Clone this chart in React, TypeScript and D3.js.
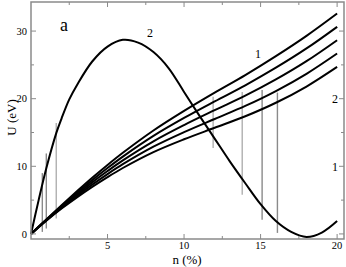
import * as d3 from 'd3'

// curve "2"
const n2 = [0, 0.5, 1, 1.65, 2, 2.5, 3, 4, 5, 6, 7, 8, 9, 10, 11, 12, 13, 14, 15, 16, 17, 18, 19, 20]
const u2 = [0, 5.0, 9.7, 14.9, 17.1, 19.9, 22.0, 25.5, 27.7, 28.7, 28.3, 26.9, 24.5, 21.0, 17.5, 14.1, 10.7, 7.5, 4.4, 1.9, 0.3, -0.45, 0.2, 1.9]

// family "1" (five curves, top to bottom)
const n1 = [0, 1, 2, 3, 4, 5, 6, 8, 10, 12, 14, 16, 18, 20]
const u1a = [0, 2.15, 4.25, 6.3, 8.3, 10.2, 12.0, 15.3, 18.2, 20.9, 23.5, 26.3, 29.3, 32.6]
const u1b = [0, 2.1, 4.13, 6.08, 7.96, 9.75, 11.44, 14.5, 17.15, 19.6, 21.98, 24.58, 27.43, 30.63]
const u1c = [0, 2.05, 4.0, 5.85, 7.63, 9.3, 10.88, 13.7, 16.1, 18.3, 20.45, 22.85, 25.55, 28.65]
const u1d = [0, 2.0, 3.88, 5.63, 7.29, 8.85, 10.31, 12.9, 15.05, 17.0, 18.93, 21.13, 23.68, 26.68]
const u1e = [0, 1.95, 3.75, 5.4, 6.95, 8.4, 9.75, 12.1, 14.0, 15.7, 17.4, 19.4, 21.8, 24.7]
const family1 = [u1a, u1b, u1c, u1d, u1e]

// vertical range bars
const barN = [0.74, 1.0, 1.65, 11.9, 13.8, 15.1, 16.1]
const barLow = [0.3, 0.8, 2.3, 12.7, 5.8, 2.1, 0.15]
const barHigh = [9.0, 11.9, 16.4, 20.3, 21.0, 21.3, 20.9]

const xMajor = [5, 10, 15, 20]
const xMinor = [2.5, 7.5, 12.5, 17.5]
const yMajor = [0, 10, 20, 30]
const yMinor = [5, 15, 25]
const rightLabels = [
  { v: 20, t: '2' },
  { v: 10, t: '1' }
]

const W = 346
const H = 267
const axisColor = '#8a8a8a'
const font = "'Liberation Serif', 'DejaVu Serif', serif"

export default function App() {
  const x = d3.scaleLinear().domain([0, 20.45]).range([31, 344])
  const y = d3.scaleLinear().domain([-0.75, 34.3]).range([239, 2])
  const [x0, x1] = x.range()
  const [y0, y1] = y.range()

  const line = d3
    .line<[number, number]>()
    .x(d => x(d[0]))
    .y(d => y(d[1]))
    .curve(d3.curveCatmullRom.alpha(0.5))

  const c2 = line(n2.map((n, i) => [n, u2[i]] as [number, number])) ?? ''
  const c1 = family1.map(arr => line(n1.map((n, i) => [n, arr[i]] as [number, number])) ?? '')

  return (
    <svg width={W} height={H} style={{ position: 'absolute', left: 0, top: 0, fontFamily: font }}>
      <rect width={W} height={H} fill="#fff" />

      {/* range bars */}
      {barN.map((n, i) => (
        <line key={'b' + i} x1={x(n)} x2={x(n)} y1={y(barLow[i])} y2={y(barHigh[i])}
          stroke={i === 2 || i === 3 || i === 4 ? '#b0b0b0' : '#8a8a8a'} strokeWidth={1.4} />
      ))}

      {/* curves */}
      {c1.map((d, i) => (
        <path key={'c' + i} d={d} fill="none" stroke="#000" strokeWidth={2} />
      ))}
      <path d={c2} fill="none" stroke="#000" strokeWidth={2} />

      {/* frame */}
      <rect x={x0} y={y1} width={x1 - x0} height={y0 - y1} fill="none" stroke={axisColor} strokeWidth={1.5} />

      {/* x ticks, bottom and top */}
      {xMajor.map(v => (
        <g key={'xm' + v}>
          <line x1={x(v)} x2={x(v)} y1={y0} y2={y0 - 5} stroke={axisColor} />
          <line x1={x(v)} x2={x(v)} y1={y1} y2={y1 + 5} stroke={axisColor} />
          <text x={x(v)} y={249} fontSize={10.5} textAnchor="middle">{v}</text>
        </g>
      ))}
      {xMinor.map(v => (
        <g key={'xn' + v}>
          <line x1={x(v)} x2={x(v)} y1={y0} y2={y0 - 3} stroke={axisColor} />
          <line x1={x(v)} x2={x(v)} y1={y1} y2={y1 + 3} stroke={axisColor} />
        </g>
      ))}

      {/* y ticks, left and right */}
      {yMajor.map(v => (
        <g key={'ym' + v}>
          <line x1={x0} x2={x0 + 5} y1={y(v)} y2={y(v)} stroke={axisColor} />
          <line x1={x1} x2={x1 - 5} y1={y(v)} y2={y(v)} stroke={axisColor} />
          <text x={27} y={y(v)} dy="0.35em" fontSize={10.5} textAnchor="end">{v}</text>
        </g>
      ))}
      {yMinor.map(v => (
        <g key={'yn' + v}>
          <line x1={x0} x2={x0 + 3} y1={y(v)} y2={y(v)} stroke={axisColor} />
          <line x1={x1} x2={x1 - 3} y1={y(v)} y2={y(v)} stroke={axisColor} />
        </g>
      ))}
      {rightLabels.map(r => (
        <text key={'r' + r.t} x={x1 - 9} y={y(r.v)} dy="0.35em" fontSize={12} textAnchor="middle">{r.t}</text>
      ))}

      {/* annotations */}
      <text x={64} y={31} fontSize={18} textAnchor="middle">a</text>
      <text x={150} y={37} fontSize={12} textAnchor="middle">2</text>
      <text x={258} y={58} fontSize={12} textAnchor="middle">1</text>

      {/* axis titles */}
      <text x={187} y={264} fontSize={13} textAnchor="middle">n (%)</text>
      <text transform={`translate(16,${(y0 + y1) / 2 - 3}) rotate(-90)`} fontSize={13} textAnchor="middle">U (eV)</text>
    </svg>
  )
}
